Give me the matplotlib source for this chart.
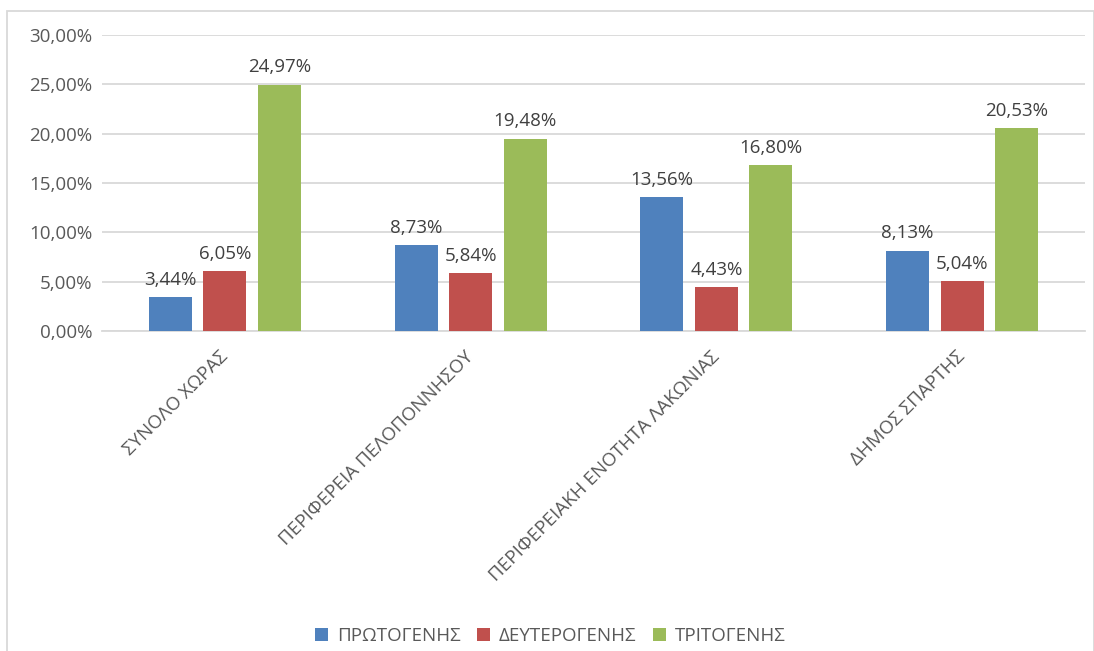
import matplotlib
matplotlib.use("Agg")
import matplotlib.pyplot as plt
import matplotlib.transforms as mtransforms
from matplotlib.patches import Rectangle
import numpy as np

categories = ["ΣΥΝΟΛΟ ΧΩΡΑΣ", "ΠΕΡΙΦΕΡΕΙΑ ΠΕΛΟΠΟΝΝΗΣΟΥ",
              "ΠΕΡΙΦΕΡΕΙΑΚΗ ΕΝΟΤΗΤΑ ΛΑΚΩΝΙΑΣ", "ΔΗΜΟΣ ΣΠΑΡΤΗΣ"]
series_names = ["ΠΡΩΤΟΓΕΝΗΣ", "ΔΕΥΤΕΡΟΓΕΝΗΣ", "ΤΡΙΤΟΓΕΝΗΣ"]
primary = [3.44, 8.73, 13.56, 8.13]
secondary = [6.05, 5.84, 4.43, 5.04]
tertiary = [24.97, 19.48, 16.80, 20.53]
yticks = [0, 5, 10, 15, 20, 25, 30]

colors = ["#4F81BD", "#C0504D", "#9BBB59"]
text_color = "#595959"
grid_color = "#D9D9D9"

plt.rcParams['font.family'] = ['Open Sans', 'DejaVu Sans']
fs = 13.5

W, H = 1094, 651
fig = plt.figure(figsize=(W / 100, H / 100), dpi=100)
ax = fig.add_axes([102 / W, (H - 331) / H, (1085 - 102) / W, (331 - 35) / H])

x = np.arange(len(categories))
width = 0.175
step = 0.2216
for i, (vals, name) in enumerate(zip([primary, secondary, tertiary], series_names)):
    bars = ax.bar(x + (i - 1) * step, vals, width, color=colors[i], label=name, zorder=3)
    for b, v in zip(bars, vals):
        ax.annotate(f"{v:.2f}%".replace(".", ","),
                    (b.get_x() + b.get_width() / 2, v),
                    xytext=(0, 6), textcoords="offset points",
                    ha="center", va="bottom", fontsize=fs, color="#404040")

ax.set_xlim(-0.5, len(categories) - 0.5)
ax.set_ylim(0, 30)
ax.set_yticks(yticks)
ax.set_yticklabels([f"{t:.2f}%".replace(".", ",") for t in yticks],
                   fontsize=fs, color=text_color)
ax.yaxis.grid(True, color=grid_color, linewidth=1.3, zorder=0)
ax.set_axisbelow(True)
for s in ["top", "right", "left"]:
    ax.spines[s].set_visible(False)
ax.spines["bottom"].set_color(grid_color)
ax.spines["bottom"].set_linewidth(1.3)
ax.tick_params(axis="y", length=0, pad=7)
ax.tick_params(axis="x", length=0, pad=12)

ax.set_xticks(x)
ax.set_xticklabels(categories, rotation=45, ha="right", rotation_mode="anchor",
                   fontsize=fs, color=text_color)
shift = mtransforms.ScaledTranslation(-6 / 100, 0, fig.dpi_scale_trans)
for lbl in ax.get_xticklabels():
    lbl.set_transform(lbl.get_transform() + shift)

leg = fig.legend(loc="center", bbox_to_anchor=(0.503, (H - 636) / H), ncol=3,
                 frameon=False, fontsize=fs, handlelength=0.7, handleheight=0.7,
                 columnspacing=0.9, handletextpad=0.45)
for t in leg.get_texts():
    t.set_color(text_color)

fig.patches.append(Rectangle((7 / W, -0.05), (W - 7) / W, (H - 11) / H + 0.05,
                             transform=fig.transFigure, fill=False,
                             edgecolor=grid_color, linewidth=1.3))

fig.savefig("out.png", dpi=100, facecolor="white")
